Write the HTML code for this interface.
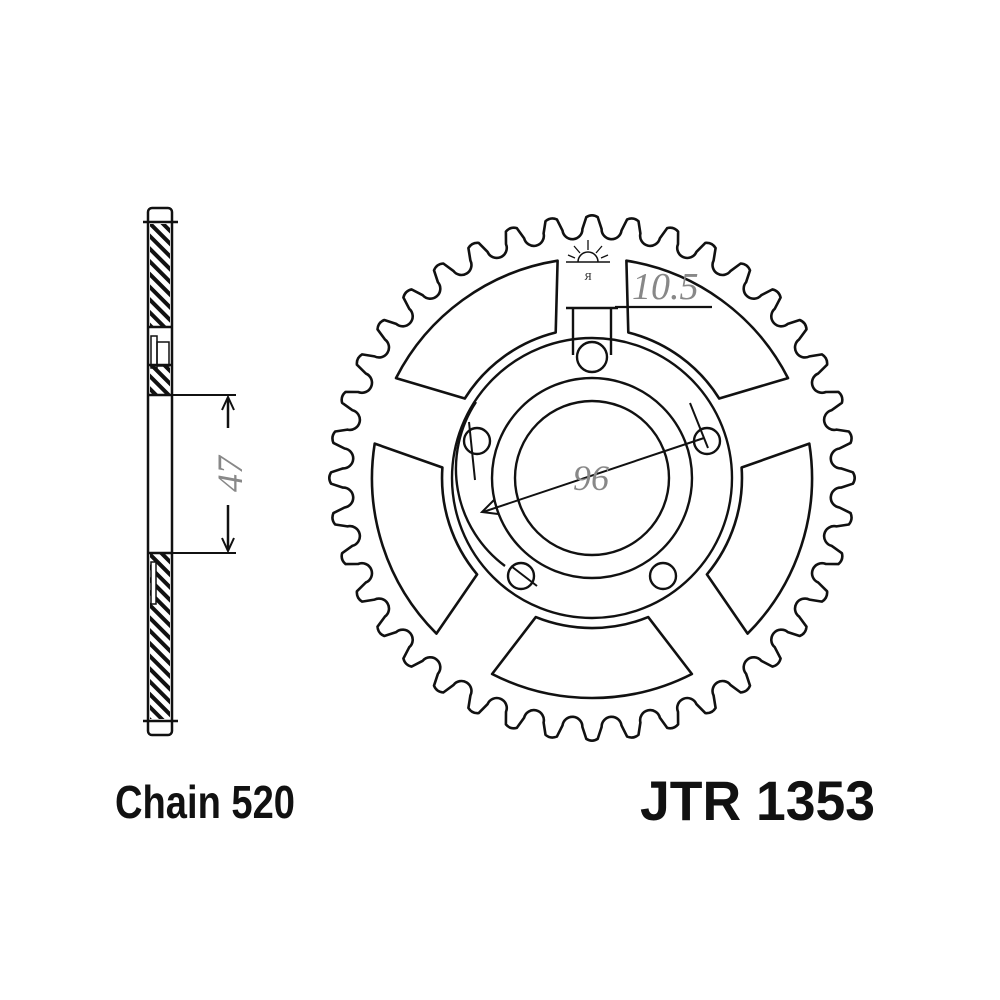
<!DOCTYPE html>
<html><head><meta charset="utf-8"><style>html,body{margin:0;padding:0;background:#fff;}svg{display:block}</style></head>
<body>
<svg id="s" width="1000" height="1000" viewBox="0 0 1000 1000" xmlns="http://www.w3.org/2000/svg">
<defs>
<pattern id="h" width="9" height="9" patternUnits="userSpaceOnUse" patternTransform="rotate(-45)">
<rect width="9" height="9" fill="#fff"/><rect x="0" y="0" width="4" height="9" fill="#111"/>
</pattern>
</defs>
<rect width="1000" height="1000" fill="#fff"/>
<g stroke="#111" stroke-width="2.5" fill="none">
<rect x="148" y="208" width="24" height="527" rx="4"/>
<line x1="143" y1="222" x2="178" y2="222"/>
<line x1="143" y1="721" x2="178" y2="721"/>
<rect x="150" y="224" width="20" height="103" fill="url(#h)" stroke="none"/>
<rect x="150" y="365" width="20" height="30" fill="url(#h)" stroke="none"/>
<rect x="150" y="553" width="20" height="166" fill="url(#h)" stroke="none"/>
<line x1="148" y1="327" x2="172" y2="327"/>
<line x1="148" y1="365" x2="172" y2="365"/>
<rect x="151" y="336" width="6" height="32" stroke-width="1.5"/>
<rect x="157" y="342" width="12" height="24" stroke-width="1.5"/>
<rect x="151" y="562" width="5" height="42" stroke-width="1.5" fill="#fff"/>
<line x1="148" y1="395" x2="172" y2="395"/>
<line x1="148" y1="553" x2="172" y2="553"/>
<line x1="172" y1="395" x2="236" y2="395" stroke-width="2"/>
<line x1="172" y1="553" x2="236" y2="553" stroke-width="2"/>
<line x1="228" y1="398" x2="228" y2="428" stroke-width="2.5"/>
<line x1="228" y1="505" x2="228" y2="550" stroke-width="2.5"/>
<path d="M222 410 L228 397 L234 410 M222 538 L228 551 L234 538" stroke-width="2"/>
</g>
<text x="0" y="0" transform="translate(242,474) rotate(-90)" text-anchor="middle" font-family="Liberation Serif, serif" font-style="italic" font-size="36" fill="#888">47</text>
<g id="spr" stroke="#111" stroke-width="2.6" fill="none" stroke-linejoin="round"></g>
<g stroke="#111" stroke-width="2.4" fill="none">
<circle cx="592" cy="478" r="77"/>
<circle cx="592" cy="478" r="100"/>
<circle cx="592" cy="478" r="140"/>
<path d="M476 402 A121 121 0 0 0 505 566" />
<path d="M573 308 L573 355 M611 308 L611 355 M566 308 L618 308"/>
<circle cx="592" cy="357" r="15"/>
<circle cx="707" cy="441" r="13"/>
<circle cx="477" cy="441" r="13"/>
<circle cx="521" cy="576" r="13"/>
<circle cx="663" cy="576" r="13"/>
<line x1="483" y1="512" x2="704" y2="438" stroke-width="2"/>
<path d="M494 500 L482 512 L498 514" stroke-width="2"/>
<line x1="469" y1="422" x2="475" y2="480" stroke-width="2"/>
<line x1="690" y1="403" x2="708" y2="448" stroke-width="2"/>
<line x1="511" y1="566" x2="537" y2="586" stroke-width="2"/>
<line x1="615" y1="307" x2="712" y2="307" stroke-width="2.2"/>
<line x1="566" y1="262" x2="610" y2="262" stroke-width="1.5"/>
<path d="M578 262 A10 10 0 0 1 598 262" stroke-width="1.5"/>
<path d="M588 250 L588 240 M580 253 L574 246 M596 253 L602 246 M575 258 L568 255 M601 258 L608 255" stroke-width="1.3"/>
</g>
<text x="588" y="280" text-anchor="middle" font-family="Liberation Serif, serif" font-size="11" fill="#222">Я</text>
<text x="632" y="299" font-family="Liberation Serif, serif" font-style="italic" font-size="38" fill="#888">10.5</text>
<text x="573" y="490" font-family="Liberation Serif, serif" font-style="italic" font-size="36" fill="#888">96</text>
<text x="115" y="818" font-family="Liberation Sans, sans-serif" font-weight="bold" font-size="46" fill="#111" textLength="180" lengthAdjust="spacingAndGlyphs">Chain 520</text>
<text x="640" y="820" font-family="Liberation Sans, sans-serif" font-weight="bold" font-size="56" fill="#111" textLength="235" lengthAdjust="spacingAndGlyphs">JTR 1353</text>
</svg>
<script>
(function(){
var cx=592,cy=478,N=40,Rt=263,Rc=249,rr=10,g=document.getElementById('spr');
function P(r,a){return [cx+r*Math.cos(a),cy+r*Math.sin(a)];}
function f(p){return p[0].toFixed(1)+' '+p[1].toFixed(1);}
var step=2*Math.PI/N,d='';
for(var k=0;k!==N;k++){
 var av=-Math.PI/2+(k+0.5)*step;
 var C=P(Rc,av);
 var tx=-Math.sin(av),ty=Math.cos(av);
 var s=[C[0]-tx*rr,C[1]-ty*rr], e=[C[0]+tx*rr,C[1]+ty*rr];
 if(k==0) d='M'+f(s);
 d+=' A'+rr+' '+rr+' 0 0 0 '+f(e);
 var at=-Math.PI/2+(k+1)*step;
 var avn=at+step/2, Cn=P(Rc,avn), txn=-Math.sin(avn),tyn=Math.cos(avn);
 var sn=[Cn[0]-txn*rr,Cn[1]-tyn*rr];
 var t1=P(Rt-2,at-0.022), t2=P(Rt-2,at+0.022), tc=P(Rt+1.5,at);
 d+=' L'+f(t1)+' Q'+f(tc)+' '+f(t2)+' L'+f(sn);
}
var pa=document.createElementNS('http://www.w3.org/2000/svg','path');pa.setAttribute('d',d+'Z');g.appendChild(pa);
function pt(r,deg){var a=deg*Math.PI/180;return (cx+r*Math.cos(a)).toFixed(1)+' '+(cy+r*Math.sin(a)).toFixed(1);}
var cs=[-126,-54,18,90,162],Ro=220,Ri=150,ho=27,hi=22;
cs.forEach(function(c){
 var w='M'+pt(Ri,c-hi)+' L'+pt(Ro,c-ho)+' A'+Ro+' '+Ro+' 0 0 1 '+pt(Ro,c+ho)+' L'+pt(Ri,c+hi)+' A'+Ri+' '+Ri+' 0 0 0 '+pt(Ri,c-hi)+' Z';
 var q=document.createElementNS('http://www.w3.org/2000/svg','path');q.setAttribute('d',w);g.appendChild(q);
});
})();
</script>
</body></html>
